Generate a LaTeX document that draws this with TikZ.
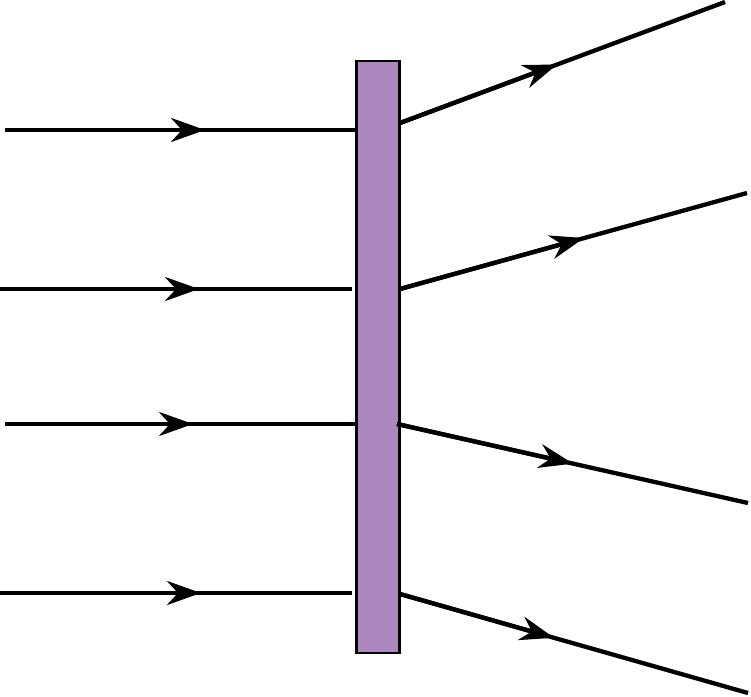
\documentclass[tikz,border=0pt]{standalone}
\usetikzlibrary{arrows.meta}
\definecolor{barfill}{RGB}{173,136,192}
\tikzset{
  ray/.style={line width=4.3bp, black},
  raytip/.style={ray, -{Stealth[length=34bp,width=24bp,inset=11bp]}},
  barbox/.style={draw=black, line width=2.8bp, fill=barfill, inner sep=0pt, minimum width=43bp, minimum height=592bp}
}
\begin{document}
\begin{tikzpicture}[x=1bp,y=-1bp]
\useasboundingbox (0,0) rectangle (751,697);
\node[barbox] (bar) at (378,357) {};
% incoming rays
\coordinate (l1s) at (5,130);   \coordinate (l1t) at (205,130); \coordinate (l1e) at (356,130);
\coordinate (l2s) at (0,289);   \coordinate (l2t) at (199,289); \coordinate (l2e) at (352,289);
\coordinate (l3s) at (5,424);   \coordinate (l3t) at (193,424); \coordinate (l3e) at (356,424);
\coordinate (l4s) at (0,593);   \coordinate (l4t) at (201,593); \coordinate (l4e) at (352,593);
% outgoing rays
\coordinate (r1s) at (400,123); \coordinate (r1t) at (557,64.5);  \coordinate (r1e) at (725,2);
\coordinate (r2s) at (400,289); \coordinate (r2t) at (584,238); \coordinate (r2e) at (747,193);
\coordinate (r3s) at (397,424); \coordinate (r3t) at (573,463.6); \coordinate (r3e) at (748,503);
\coordinate (r4s) at (400,594); \coordinate (r4t) at (554,637.8); \coordinate (r4e) at (748,693);
\foreach \r in {l1,l2,l3,l4,r1,r2,r3,r4}{
  \draw[ray] (\r s) -- (\r e);
  \draw[raytip] (\r s) -- (\r t);
}
\end{tikzpicture}
\end{document}
